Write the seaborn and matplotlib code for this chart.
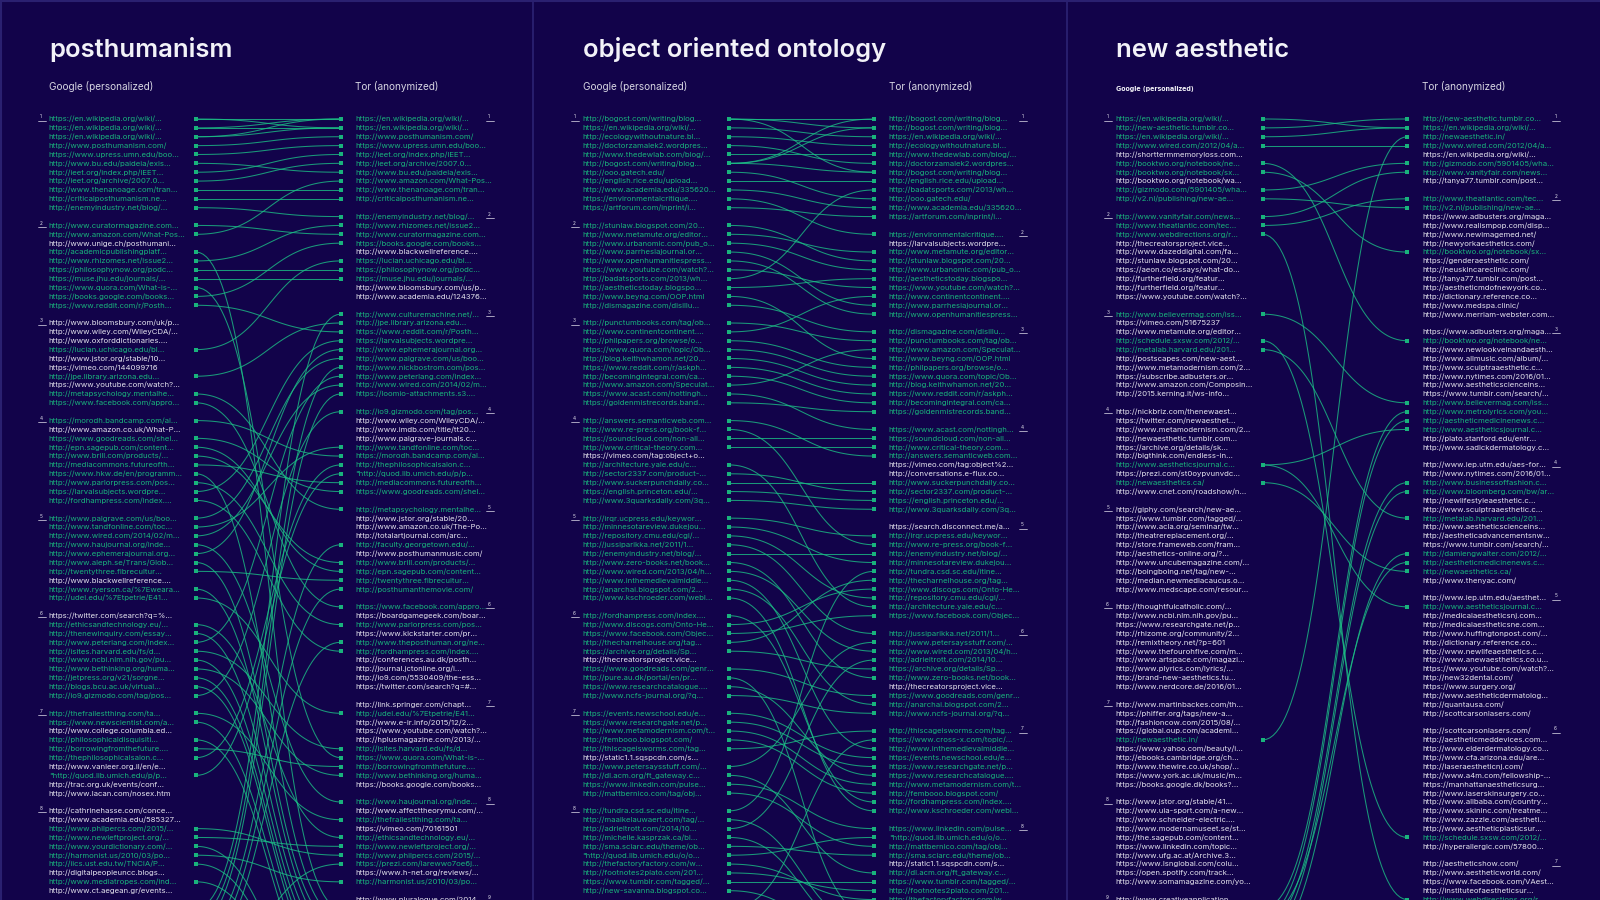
import numpy as np
import pandas as pd
import matplotlib
matplotlib.use("Agg")
import matplotlib.pyplot as plt
import seaborn as sns

# ---------------------------------------------------------------- data
TITLES = ["posthumanism", "object oriented ontology", "new aesthetic"]
LEFT_HEADER = "Google (personalized)"
RIGHT_HEADER = "Tor (anonymized)"

# ---- panel 1 : posthumanism
P1_GOOGLE = [
    ["https://en.wikipedia.org/wiki/...", "https://en.wikipedia.org/wiki/...", "https://en.wikipedia.org/wiki/...",
     "http://www.posthumanism.com/", "https://www.upress.umn.edu/boo...", "http://www.bu.edu/paideia/exis...",
     "http://ieet.org/index.php/IEET...", "http://ieet.org/archive/2007.0...", "http://www.thenanoage.com/tran...",
     "http://criticalposthumanism.ne...", "http://enemyindustry.net/blog/..."],
    ["http://www.curatormagazine.com...", "http://www.amazon.com/What-Pos...", "http://www.unige.ch/posthumani...",
     "http://academicpublishingplatf...", "http://www.rhizomes.net/issue2...", "https://philosophynow.org/podc...",
     "https://muse.jhu.edu/journals/...", "https://www.quora.com/What-is-...", "https://books.google.com/books...",
     "https://www.reddit.com/r/Posth..."],
    ["http://www.bloomsbury.com/uk/p...", "http://www.wiley.com/WileyCDA/...", "http://www.oxforddictionaries....",
     "https://lucian.uchicago.edu/bl...", "http://www.jstor.org/stable/10...", "https://vimeo.com/144099716",
     "http://jpe.library.arizona.edu...", "https://www.youtube.com/watch?...", "http://metapsychology.mentalhe...",
     "https://www.facebook.com/appro..."],
    ["https://morodh.bandcamp.com/al...", "http://www.amazon.co.uk/What-P...", "https://www.goodreads.com/shel...",
     "http://epn.sagepub.com/content...", "http://www.brill.com/products/...", "http://mediacommons.futureofth...",
     "https://www.hkw.de/en/programm...", "http://www.parlorpress.com/pos...", "https://larvalsubjects.wordpre...",
     "http://fordhampress.com/index...."],
    ["http://www.palgrave.com/us/boo...", "http://www.tandfonline.com/toc...", "http://www.wired.com/2014/02/m...",
     "http://www.haujournal.org/inde...", "http://www.ephemerajournal.org...", "http://www.aleph.se/Trans/Glob...",
     "http://twentythree.fibrecultur...", "http://www.blackwellreference....", "http://www.ryerson.ca/%7Eweara...",
     "http://udel.edu/%7Etpetrie/E41..."],
    ["https://twitter.com/search?q=%...", "http://ethicsandtechnology.eu/...", "http://thenewinquiry.com/essay...",
     "http://www.peterlang.com/index...", "http://isites.harvard.edu/fs/d...", "http://www.ncbi.nlm.nih.gov/pu...",
     "http://www.bethinking.org/huma...", "http://jetpress.org/v21/sorgne...", "http://blogs.bcu.ac.uk/virtual...",
     "http://io9.gizmodo.com/tag/pos..."],
    ["http://thefrailestthing.com/ta...", "https://www.newscientist.com/a...", "http://www.college.columbia.ed...",
     "http://philosophicaldisquisiti...", "http://borrowingfromthefuture....", "http://thephilosophicalsalon.c...",
     "http://www.vanleer.org.il/en/e...", '"http://quod.lib.umich.edu/p/p...', "http://trac.org.uk/events/conf...",
     "http://www.lacan.com/nosex.htm"],
    ["http://cathrinehasse.com/conce...", "http://www.academia.edu/585327...", "http://www.philpercs.com/2015/...",
     "http://www.newleftproject.org/...", "http://www.yourdictionary.com/...", "http://harmonist.us/2010/03/po...",
     "http://iics.ust.edu.tw/TNCIA/P...", "http://digitalpeopleuncc.blogs...", "http://www.mediatropes.com/ind...",
     "http://www.ct.aegean.gr/events..."],
    ["http://www.culturemachine.net/...", "http://www.nickbostrom.com/pos...", "https://loomio-attachments.s3....",
     "http://faculty.georgetown.edu/...", "http://posthumanthemovie.com/", "http://www.theposthuman.org/ne...",
     "https://prezi.com/larewwo7oe6j..."],
]
P1_TOR = [
    ["https://en.wikipedia.org/wiki/...", "https://en.wikipedia.org/wiki/...", "http://www.posthumanism.com/",
     "https://www.upress.umn.edu/boo...", "http://ieet.org/index.php/IEET...", "http://ieet.org/archive/2007.0...",
     "http://www.bu.edu/paideia/exis...", "http://www.amazon.com/What-Pos...", "http://www.thenanoage.com/tran...",
     "http://criticalposthumanism.ne..."],
    ["http://enemyindustry.net/blog/...", "http://www.rhizomes.net/issue2...", "http://www.curatormagazine.com...",
     "https://books.google.com/books...", "http://www.blackwellreference....", "https://lucian.uchicago.edu/bl...",
     "https://philosophynow.org/podc...", "https://muse.jhu.edu/journals/...", "http://www.bloomsbury.com/us/p...",
     "http://www.academia.edu/124376..."],
    ["http://www.culturemachine.net/...", "http://jpe.library.arizona.edu...", "https://www.reddit.com/r/Posth...",
     "https://larvalsubjects.wordpre...", "http://www.ephemerajournal.org...", "http://www.palgrave.com/us/boo...",
     "http://www.nickbostrom.com/pos...", "http://www.peterlang.com/index...", "http://www.wired.com/2014/02/m...",
     "https://loomio-attachments.s3...."],
    ["http://io9.gizmodo.com/tag/pos...", "http://www.wiley.com/WileyCDA/...", "http://www.imdb.com/title/tt20...",
     "http://www.palgrave-journals.c...", "http://www.tandfonline.com/toc...", "https://morodh.bandcamp.com/al...",
     "http://thephilosophicalsalon.c...", '"http://quod.lib.umich.edu/p/p...', "http://mediacommons.futureofth...",
     "https://www.goodreads.com/shel..."],
    ["http://metapsychology.mentalhe...", "http://www.jstor.org/stable/20...", "http://www.amazon.co.uk/The-Po...",
     "http://totalartjournal.com/arc...", "http://faculty.georgetown.edu/...", "http://www.posthumanmusic.com/",
     "http://www.brill.com/products/...", "http://epn.sagepub.com/content...", "http://twentythree.fibrecultur...",
     "http://posthumanthemovie.com/"],
    ["https://www.facebook.com/appro...", "https://boardgamegeek.com/boar...", "http://www.parlorpress.com/pos...",
     "https://www.kickstarter.com/pr...", "http://www.theposthuman.org/ne...", "http://fordhampress.com/index....",
     "http://conferences.au.dk/posth...", "http://journal.jctonline.org/i...", "http://io9.com/5530409/the-ess...",
     "https://twitter.com/search?q=#..."],
    ["http://link.springer.com/chapt...", "http://udel.edu/%7Etpetrie/E41...", "http://www.e-ir.info/2015/12/2...",
     "https://www.youtube.com/watch?...", "http://hplusmagazine.com/2013/...", "http://isites.harvard.edu/fs/d...",
     "https://www.quora.com/What-is-...", "http://borrowingfromthefuture....", "http://www.bethinking.org/huma...",
     "https://books.google.com/books..."],
    ["http://www.haujournal.org/inde...", "http://www.affecttheorymu.com/...", "http://thefrailestthing.com/ta...",
     "https://vimeo.com/70161501", "http://ethicsandtechnology.eu/...", "http://www.newleftproject.org/...",
     "http://www.philpercs.com/2015/...", "https://prezi.com/larewwo7oe6j...", "https://www.h-net.org/reviews/...",
     "http://harmonist.us/2010/03/po..."],
    ["http://www.pluralogue.com/2014...", "http://academicpublishingplatf...", "https://www.hkw.de/en/programm...",
     "http://www.aleph.se/Trans/Glob...", "http://www.ryerson.ca/%7Eweara...", "http://thenewinquiry.com/essay...",
     "http://www.ncbi.nlm.nih.gov/pu...", "http://jetpress.org/v21/sorgne...", "http://blogs.bcu.ac.uk/virtual...",
     "https://www.newscientist.com/a...", "http://philosophicaldisquisiti..."],
    ["http://www.yourdictionary.com/...", "http://iics.ust.edu.tw/TNCIA/P...", "http://www.mediatropes.com/ind..."],
]
P1_UNLINKED = [("google", 3, 2), ("google", 3, 8), ("google", 5, 8), ("tor", 7, 10)]

# ---- panel 2 : object oriented ontology
P2_GOOGLE = [
    ["http://bogost.com/writing/blog...", "https://en.wikipedia.org/wiki/...", "http://ecologywithoutnature.bl...",
     "http://doctorzamalek2.wordpres...", "http://www.thedewlab.com/blog/...", "http://bogost.com/writing/blog...",
     "http://ooo.gatech.edu/", "http://english.rice.edu/upload...", "http://www.academia.edu/335620...",
     "https://environmentalcritique....", "https://artforum.com/inprint/i..."],
    ["http://stunlaw.blogspot.com/20...", "http://www.metamute.org/editor...", "http://www.urbanomic.com/pub_o...",
     "http://www.parrhesiajournal.or...", "http://www.openhumanitiespress...", "https://www.youtube.com/watch?...",
     "http://badatsports.com/2013/wh...", "http://aestheticstoday.blogspo...", "http://www.beyng.com/OOP.html",
     "http://dismagazine.com/disillu..."],
    ["http://punctumbooks.com/tag/ob...", "http://www.continentcontinent....", "http://philpapers.org/browse/o...",
     "https://www.quora.com/topic/Ob...", "http://blog.keithwhamon.net/20...", "https://www.reddit.com/r/askph...",
     "http://becomingintegral.com/ca...", "http://www.amazon.com/Speculat...", "https://www.acast.com/nottingh...",
     "https://goldenmistrecords.band..."],
    ["http://answers.semanticweb.com...", "http://www.re-press.org/book-f...", "https://soundcloud.com/non-all...",
     "http://www.critical-theory.com...", "https://vimeo.com/tag:object+o...", "http://architecture.yale.edu/c...",
     "http://sector2337.com/product-...", "http://www.suckerpunchdaily.co...", "https://english.princeton.edu/...",
     "http://www.3quarksdaily.com/3q..."],
    ["http://irqr.ucpress.edu/keywor...", "http://minnesotareview.dukejou...", "http://repository.cmu.edu/cgi/...",
     "http://jussiparikka.net/2011/1...", "http://enemyindustry.net/blog/...", "http://www.zero-books.net/book...",
     "http://www.wired.com/2013/04/h...", "http://www.inthemedievalmiddle...", "http://anarchai.blogspot.com/2...",
     "http://www.kschroeder.com/webl..."],
    ["http://fordhampress.com/index....", "http://www.discogs.com/Onto-He...", "https://www.facebook.com/Objec...",
     "http://thecharnelhouse.org/tag...", "https://archive.org/details/Sp...", "http://thecreatorsproject.vice...",
     "https://www.goodreads.com/genr...", "http://pure.au.dk/portal/en/pr...", "https://www.researchcatalogue....",
     "http://www.ncfs-journal.org/?q..."],
    ["https://events.newschool.edu/e...", "https://www.researchgate.net/p...", "http://www.metamodernism.com/t...",
     "http://fembooo.blogspot.com/", "http://thiscageisworms.com/tag...", "http://static1.1.sqspcdn.com/s...",
     "http://www.petersaysstuff.com/...", "http://dl.acm.org/ft_gateway.c...", "https://www.linkedin.com/pulse...",
     "http://mattbernico.com/tag/obj..."],
    ["http://tundra.csd.sc.edu/itine...", "http://maaikelauwaert.com/tag/...", "http://adrieltrott.com/2014/10...",
     "http://michelle.kasprzak.ca/bl...", "http://sma.sciarc.edu/theme/ob...", '"http://quod.lib.umich.edu/o/o...',
     "http://thefactoryfactory.com/w...", "http://footnotes2plato.com/201...", "https://www.tumblr.com/tagged/...",
     "http://new-savanna.blogspot.co..."],
    ["https://www.cross-x.com/topic/..."],
]
P2_TOR = [
    ["http://bogost.com/writing/blog...", "http://bogost.com/writing/blog...", "https://en.wikipedia.org/wiki/...",
     "http://ecologywithoutnature.bl...", "http://www.thedewlab.com/blog/...", "http://doctorzamalek2.wordpres...",
     "http://bogost.com/writing/blog...", "http://english.rice.edu/upload...", "http://badatsports.com/2013/wh...",
     "http://ooo.gatech.edu/", "http://www.academia.edu/335620...", "https://artforum.com/inprint/i..."],
    ["https://environmentalcritique....", "https://larvalsubjects.wordpre...", "http://www.metamute.org/editor...",
     "http://stunlaw.blogspot.com/20...", "http://www.urbanomic.com/pub_o...", "http://aestheticstoday.blogspo...",
     "https://www.youtube.com/watch?...", "http://www.continentcontinent....", "http://www.parrhesiajournal.or...",
     "http://www.openhumanitiespress..."],
    ["http://dismagazine.com/disillu...", "http://punctumbooks.com/tag/ob...", "http://www.amazon.com/Speculat...",
     "http://www.beyng.com/OOP.html", "http://philpapers.org/browse/o...", "https://www.quora.com/topic/Ob...",
     "http://blog.keithwhamon.net/20...", "https://www.reddit.com/r/askph...", "http://becomingintegral.com/ca...",
     "https://goldenmistrecords.band..."],
    ["https://www.acast.com/nottingh...", "https://soundcloud.com/non-all...", "http://www.critical-theory.com...",
     "http://answers.semanticweb.com...", "https://vimeo.com/tag:object%2...", "http://conversations.e-flux.co...",
     "http://www.suckerpunchdaily.co...", "http://sector2337.com/product-...", "https://english.princeton.edu/...",
     "http://www.3quarksdaily.com/3q..."],
    ["https://search.disconnect.me/a...", "http://irqr.ucpress.edu/keywor...", "http://www.re-press.org/book-f...",
     "http://enemyindustry.net/blog/...", "http://minnesotareview.dukejou...", "http://tundra.csd.sc.edu/itine...",
     "http://thecharnelhouse.org/tag...", "http://www.discogs.com/Onto-He...", "http://repository.cmu.edu/cgi/...",
     "http://architecture.yale.edu/c...", "https://www.facebook.com/Objec..."],
    ["http://jussiparikka.net/2011/1...", "http://www.petersaysstuff.com/...", "http://www.wired.com/2013/04/h...",
     "http://adrieltrott.com/2014/10...", "https://archive.org/details/Sp...", "http://www.zero-books.net/book...",
     "http://thecreatorsproject.vice...", "https://www.goodreads.com/genr...", "http://anarchai.blogspot.com/2...",
     "http://www.ncfs-journal.org/?q..."],
    ["http://thiscageisworms.com/tag...", "https://www.cross-x.com/topic/...", "http://www.inthemedievalmiddle...",
     "https://events.newschool.edu/e...", "https://www.researchgate.net/p...", "https://www.researchcatalogue....",
     "http://www.metamodernism.com/t...", "http://fembooo.blogspot.com/", "http://fordhampress.com/index....",
     "http://www.kschroeder.com/webl..."],
    ["https://www.linkedin.com/pulse...", '"http://quod.lib.umich.edu/o/o...', "http://mattbernico.com/tag/obj...",
     "http://sma.sciarc.edu/theme/ob...", "http://static1.1.sqspcdn.com/s...", "http://dl.acm.org/ft_gateway.c...",
     "https://www.tumblr.com/tagged/...", "http://footnotes2plato.com/201...", "http://thefactoryfactory.com/w..."],
    ["http://pure.au.dk/portal/en/pr...", "http://maaikelauwaert.com/tag/...", "http://michelle.kasprzak.ca/bl...",
     "http://new-savanna.blogspot.co..."],
]
P2_UNLINKED = [("google", 6, 6), ("google", 7, 6)]

# ---- panel 3 : new aesthetic
P3_GOOGLE = [
    ["https://en.wikipedia.org/wiki/...", "http://new-aesthetic.tumblr.co...", "https://en.wikipedia.org/wiki/...",
     "http://www.wired.com/2012/04/a...", "http://shorttermmemoryloss.com...", "http://booktwo.org/notebook/ne...",
     "http://booktwo.org/notebook/sx...", "http://booktwo.org/notebook/wa...", "http://gizmodo.com/5901405/wha...",
     "http://v2.nl/publishing/new-ae..."],
    ["http://www.vanityfair.com/news...", "http://www.theatlantic.com/tec...", "http://www.webdirections.org/r...",
     "http://thecreatorsproject.vice...", "http://www.dazeddigital.com/fa...", "http://stunlaw.blogspot.com/20...",
     "https://aeon.co/essays/what-do...", "http://furtherfield.org/featur...", "http://furtherfield.org/featur...",
     "https://www.youtube.com/watch?..."],
    ["http://www.believermag.com/iss...", "https://vimeo.com/51675237", "http://www.metamute.org/editor...",
     "http://schedule.sxsw.com/2012/...", "http://metalab.harvard.edu/201...", "http://postscapes.com/new-aest...",
     "http://www.metamodernism.com/2...", "https://subscribe.adbusters.or...", "http://www.amazon.com/Composin...",
     "http://2015.kerning.it/ws-info..."],
    ["http://nickbriz.com/thenewaest...", "https://twitter.com/newaesthet...", "http://www.metamodernism.com/2...",
     "http://newaesthetic.tumblr.com...", "https://archive.org/details/sk...", "http://bigthink.com/endless-in...",
     "http://www.aestheticsjournal.c...", "https://prezi.com/st0oypvunvdc...", "http://newaesthetics.ca/",
     "http://www.cnet.com/roadshow/n..."],
    ["http://giphy.com/search/new-ae...", "https://www.tumblr.com/tagged/...", "http://www.acla.org/seminar/tw...",
     "http://theatrereplacement.org/...", "http://store.frameweb.com/fram...", "http://aesthetics-online.org/?...",
     "http://www.uncubemagazine.com/...", "http://boingboing.net/tag/new-...", "http://median.newmediacaucus.o...",
     "http://www.medscape.com/resour..."],
    ["http://thoughtfulcatholic.com/...", "http://www.ncbi.nlm.nih.gov/pu...", "https://www.researchgate.net/p...",
     "http://rhizome.org/community/2...", "http://remixtheory.net/?p=601", "http://www.thefourohfive.com/m...",
     "http://www.artspace.com/magazi...", "http://www.plyrics.com/lyrics/...", "http://brand-new-aesthetics.tu...",
     "http://www.nerdcore.de/2016/01..."],
    ["http://www.martinbackes.com/th...", "https://phiffer.org/tags/new-a...", "http://fashioncow.com/2015/08/...",
     "https://global.oup.com/academi...", "http://newaesthetic.in/", "https://www.yahoo.com/beauty/i...",
     "http://ebooks.cambridge.org/ch...", "http://www.thewire.co.uk/shop/...", "https://www.york.ac.uk/music/m...",
     "https://books.google.dk/books?..."],
    ["http://www.jstor.org/stable/41...", "http://www.uia-sport.com/a-new...", "http://www.schneider-electric....",
     "http://www.modernamuseet.se/st...", "http://the.sagepub.com/content...", "https://www.linkedin.com/topic...",
     "http://www.ufg.ac.at/Archive.3...", "https://www.lsnglobal.com/colu...", "https://open.spotify.com/track...",
     "http://www.somamagazine.com/yo..."],
    ["http://www.creativeapplication...", "http://www.metrolyrics.com/you...", "http://aestheticmedicinenews.c...",
     "http://www.businessoffashion.c...", "http://www.bloomberg.com/bw/ar...", "http://damiengwalter.com/2012/..."],
]
P3_TOR = [
    ["http://new-aesthetic.tumblr.co...", "https://en.wikipedia.org/wiki/...", "http://newaesthetic.in/",
     "http://www.wired.com/2012/04/a...", "https://en.wikipedia.org/wiki/...", "http://gizmodo.com/5901405/wha...",
     "http://www.vanityfair.com/news...", "http://tanya77.tumblr.com/post..."],
    ["http://www.theatlantic.com/tec...", "http://v2.nl/publishing/new-ae...", "https://www.adbusters.org/maga...",
     "http://www.realismpop.com/disp...", "http://www.newimagemed.net/", "http://newyorkaesthetics.com/",
     "http://booktwo.org/notebook/sx...", "https://genderaesthetic.com/", "http://neuskincareclinic.com/",
     "http://tanya77.tumblr.com/post...", "http://aestheticmdofnewyork.co...", "http://dictionary.reference.co...",
     "http://www.medspa.clinic/", "http://www.merriam-webster.com..."],
    ["https://www.adbusters.org/maga...", "http://booktwo.org/notebook/ne...", "http://www.newlookveinandaesth...",
     "http://www.allmusic.com/album/...", "http://www.sculptraaesthetic.c...", "http://www.nytimes.com/2016/01...",
     "http://www.aestheticscienceins...", "https://www.tumblr.com/search/...", "http://www.believermag.com/iss...",
     "http://www.metrolyrics.com/you...", "http://aestheticmedicinenews.c...", "http://www.aestheticsjournal.c...",
     "http://plato.stanford.edu/entr...", "http://www.sadickdermatology.c..."],
    ["http://www.iep.utm.edu/aes-for...", "http://www.nytimes.com/2016/01...", "http://www.businessoffashion.c...",
     "http://www.bloomberg.com/bw/ar...", "http://newlifestyleaesthetic.c...", "http://www.sculptraaesthetic.c...",
     "http://metalab.harvard.edu/201...", "http://www.aestheticscienceins...", "http://aestheticadvancementsnw...",
     "https://www.tumblr.com/search/...", "http://damiengwalter.com/2012/...", "http://aestheticmedicinenews.c...",
     "http://newaesthetics.ca/", "http://www.thenyac.com/"],
    ["http://www.iep.utm.edu/aesthet...", "http://www.aestheticsjournal.c...", "http://medicalaestheticsnj.com...",
     "http://medicalaestheticsne.com...", "http://www.huffingtonpost.com/...", "http://dictionary.reference.co...",
     "http://www.newlifeaesthetics.c...", "http://www.anewaesthetics.co.u...", "https://www.youtube.com/watch?...",
     "http://new32dental.com/", "https://www.surgery.org/", "http://www.aestheticdermatolog...",
     "http://quantausa.com/", "http://scottcarsonlasers.com/"],
    ["http://scottcarsonlasers.com/", "http://aestheticmeddevices.com...", "http://www.elderdermatology.co...",
     "http://www.cfa.arizona.edu/are...", "http://laseraestheticnj.com/", "http://www.a4m.com/fellowship-...",
     "https://manhattanaestheticsurg...", "http://www.laserskinsurgery.co...", "http://www.alibaba.com/country...",
     "http://www.skininc.com/treatme...", "http://www.zazzle.com/aestheti...", "http://www.aestheticplasticsur...",
     "http://schedule.sxsw.com/2012/...", "http://hyperallergic.com/57800..."],
    ["http://aestheticshow.com/", "http://www.aestheticworld.com/", "https://www.facebook.com/VAest...",
     "http://instituteofaestheticsur...", "http://www.webdirections.org/r..."],
]
P3_UNLINKED = [("tor", 1, 5), ("google", 2, 10)]

PANELS = [
    (P1_GOOGLE, P1_TOR, P1_UNLINKED),
    (P2_GOOGLE, P2_TOR, P2_UNLINKED),
    (P3_GOOGLE, P3_TOR, P3_UNLINKED),
]

# ---------------------------------------------------------------- style / layout
BG = "#12034a"
GREEN = "#19b37c"
LINE_GREEN = "#1cbf86"
WHITE = "#e4e3ee"
BORDER = "#2a2070"

W, H = 1600, 900
PANEL_W = W / 3
Y0, DY = 119.0, 8.87
X_LTEXT, X_LMARK, X_RMARK, X_RTEXT = 48.7, 196.0, 340.7, 355.3
X_LNUM, X_RNUM = 41.0, 489.0
FONT = ["Inter", "DejaVu Sans"]

sns.set_theme(style="dark")
plt.rcParams["font.family"] = FONT

fig = plt.figure(figsize=(16, 9), dpi=100, facecolor=BG)
ax = fig.add_axes([0, 0, 1, 1])
ax.set_facecolor(BG)
ax.set_xlim(0, W)
ax.set_ylim(H, 0)
ax.axis("off")


def layout(pages):
    rows = []
    idx = 0
    for p, page in enumerate(pages):
        for r, t in enumerate(page):
            rows.append({"text": t, "page": p + 1, "row": r + 1, "y": Y0 + idx * DY})
            idx += 1
        idx += 1
    return rows


marks, curves = [], []
link_id = 0
for k, (gpages, tpages, unlinked) in enumerate(PANELS):
    ox = k * PANEL_W
    left, right = layout(gpages), layout(tpages)
    skip = set(unlinked)
    for r in left:
        r["linked"] = False
    for r in right:
        r["linked"] = False
    for a in left:
        if ("google", a["page"], a["row"]) in skip:
            continue
        for b in right:
            if ("tor", b["page"], b["row"]) in skip:
                continue
            if a["text"] == b["text"]:
                a["linked"] = b["linked"] = True
                x0, x1 = ox + X_LMARK, ox + X_RMARK
                y0, y1 = a["y"], b["y"]
                t = np.linspace(0, 1, 60)
                c = 0.5 * (x1 - x0)
                bx = (1 - t) ** 3 * x0 + 3 * (1 - t) ** 2 * t * (x0 + c) + 3 * (1 - t) * t ** 2 * (x1 - c) + t ** 3 * x1
                by = (1 - t) ** 3 * y0 + 3 * (1 - t) ** 2 * t * y0 + 3 * (1 - t) * t ** 2 * y1 + t ** 3 * y1
                curves.append(pd.DataFrame({"x": bx, "y": by, "link": link_id}))
                link_id += 1

    for side, rows, xt, xm, xn in (("google", left, X_LTEXT, X_LMARK, X_LNUM),
                                   ("tor", right, X_RTEXT, X_RMARK, X_RNUM)):
        for r in rows:
            if r["y"] > H + 4:
                continue
            ax.text(ox + xt, r["y"] + 2.4, r["text"], fontsize=5.6, va="baseline", ha="left",
                    color=GREEN if r["linked"] else WHITE, family=FONT)
            if r["linked"]:
                marks.append({"x": ox + xm, "y": r["y"]})
            if r["row"] == 1:
                ax.text(ox + xn, r["y"] - 0.6, str(r["page"]), fontsize=3.4, ha="center",
                        va="baseline", color=WHITE, family=FONT)
                ax.plot([ox + xn - 3.5, ox + xn + 4.5], [r["y"] + 1.6, r["y"] + 1.6],
                        color=WHITE, lw=0.5)

    # titles and headers
    ax.text(ox + 49.3, 57.3, TITLES[k], fontsize=18.4, fontweight="semibold",
            color="#f2f2f8", va="baseline", ha="left", family=FONT)
    if k == 2:
        ax.text(ox + 49.3, 90.5, LEFT_HEADER, fontsize=5.0, fontweight="bold",
                fontstretch="condensed", color="#f0f0f6", va="baseline", ha="left",
                family=["DejaVu Sans"])
    else:
        ax.text(ox + 49.3, 90.5, LEFT_HEADER, fontsize=7.2, color="#d6d5e2",
                va="baseline", ha="left", family=FONT)
    ax.text(ox + 355.3, 90.5, RIGHT_HEADER, fontsize=7.2, color="#d6d5e2",
            va="baseline", ha="left", family=FONT)

curve_df = pd.concat(curves, ignore_index=True)
sns.lineplot(data=curve_df, x="x", y="y", units="link", estimator=None, sort=False,
             color=LINE_GREEN, lw=0.75, alpha=0.8, ax=ax, legend=False)
mark_df = pd.DataFrame(marks)
sns.scatterplot(data=mark_df, x="x", y="y", marker="s", s=9, color=GREEN,
                linewidth=0, ax=ax, legend=False, zorder=5)

for xs in (PANEL_W, 2 * PANEL_W):
    ax.axvline(xs, color=BORDER, lw=1.3)
ax.axhline(1, color=BORDER, lw=1.5)
ax.axvline(1, color=BORDER, lw=1.5)
ax.axis("off")
ax.set_xlim(0, W)
ax.set_ylim(H, 0)

fig.savefig("out.png", dpi=100, facecolor=BG)
